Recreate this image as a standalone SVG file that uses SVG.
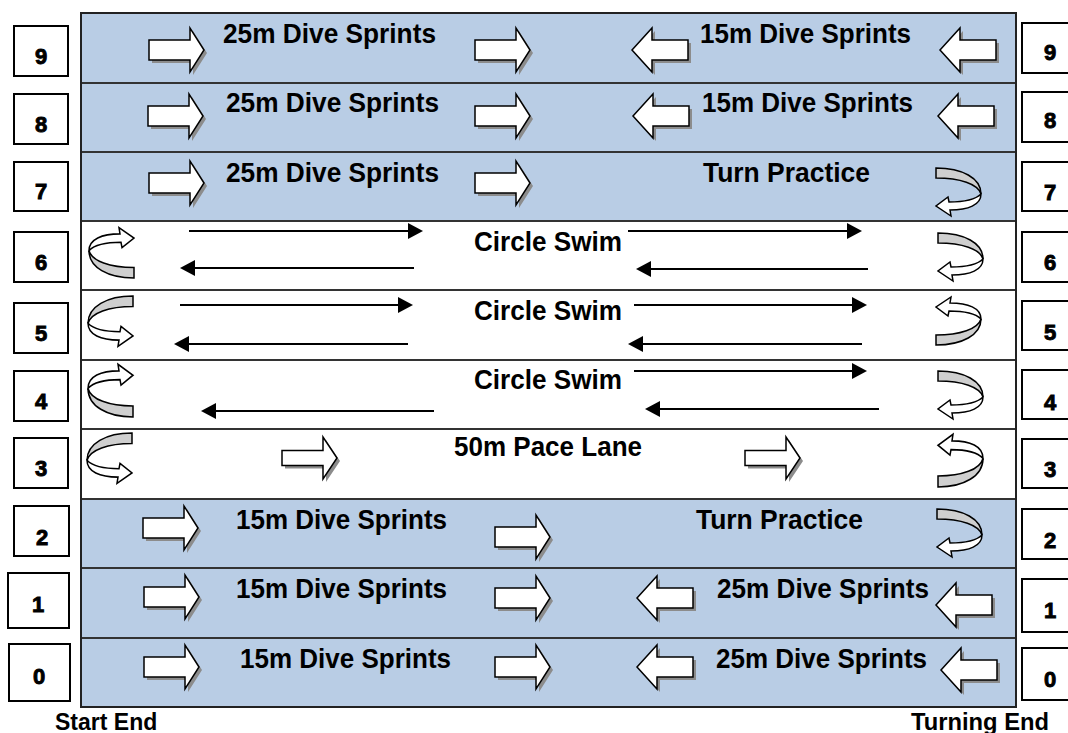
<svg xmlns="http://www.w3.org/2000/svg" width="1068" height="733" viewBox="0 0 1068 733">
<style>
.lbl{font-family:"Liberation Sans",Arial,sans-serif;font-weight:bold;font-size:28px;fill:#000}
.num{font-family:"Liberation Sans",Arial,sans-serif;font-weight:bold;font-size:22px;fill:#000;stroke:#000;stroke-width:0.9;text-anchor:middle}
.foot{font-family:"Liberation Sans",Arial,sans-serif;font-weight:bold;font-size:23px;fill:#000}
.box{fill:#fff;stroke:#000;stroke-width:2}
.blk{fill:#fff;stroke:#000;stroke-width:1.5;stroke-linejoin:miter}
.gry{fill:#cfcfcf;stroke:#000;stroke-width:1.5}
.shd{fill:#8c8c8c}
.ln{stroke:#000;stroke-width:2;fill:none}
.lane{stroke:#333;stroke-width:2}
</style>
<defs>
<marker id="ah" markerUnits="userSpaceOnUse" markerWidth="16" markerHeight="16" refX="5" refY="8" orient="auto">
<path d="M0,0 L15,8 L0,16 Z" fill="#000"/>
</marker>
<g id="ra"><path class="shd" d="M3,-7 H44 V-19 L58,3 L44,25 V13 H3 Z"/><path class="blk" d="M0,-10 H41 V-22 L55,0 L41,22 V10 H0 Z"/></g>
<g id="la"><path class="shd" d="M3,3 L23,-19 V-7 H59 V13 H23 V25 Z"/><path class="blk" d="M0,0 L20,-22 V-10 H56 V10 H20 V22 Z"/></g>
<g id="ra3"><path class="shd" d="M3,-4.5 H44 V-18 L58,3 L44,24 V10.5 H3 Z"/><path class="blk" d="M0,-7.5 H41 V-21 L55,0 L41,21 V7.5 H0 Z"/></g>
<g id="ut"><path class="gry" d="M0,0 C26,0 45,10 45,26 C42,16 24,10 0,10 Z"/><path class="blk" d="M45,26 C45,37 32,42 14,42 L15,48 L0,38 L12,29 L13,34 C28,34 40,31 45,26 Z"/></g>
</defs>

<g id="pool">
<rect x="81" y="13" width="935" height="208" fill="#b9cde5"/>
<rect x="81" y="221" width="935" height="278" fill="#fff"/>
<rect x="81" y="499" width="935" height="208" fill="#b9cde5"/>
<line class="lane" x1="81" y1="83" x2="1016" y2="83"/>
<line class="lane" x1="81" y1="152" x2="1016" y2="152"/>
<line class="lane" x1="81" y1="221" x2="1016" y2="221"/>
<line class="lane" x1="81" y1="290" x2="1016" y2="290"/>
<line class="lane" x1="81" y1="360" x2="1016" y2="360"/>
<line class="lane" x1="81" y1="429" x2="1016" y2="429"/>
<line class="lane" x1="81" y1="499" x2="1016" y2="499"/>
<line class="lane" x1="81" y1="568" x2="1016" y2="568"/>
<line class="lane" x1="81" y1="638" x2="1016" y2="638"/>
<rect x="81" y="13" width="935" height="694" fill="none" stroke="#222" stroke-width="2"/>
</g>

<g id="lane9">
<use href="#ra" x="149" y="50"/><use href="#ra" x="475" y="50"/>
<use href="#la" x="632" y="50"/><use href="#la" x="940" y="50"/>
<text class="lbl" x="223" y="43" textLength="213" lengthAdjust="spacingAndGlyphs">25m Dive Sprints</text>
<text class="lbl" x="700" y="43" textLength="211" lengthAdjust="spacingAndGlyphs">15m Dive Sprints</text>
</g>
<g id="lane8">
<use href="#ra" x="148" y="116"/><use href="#ra" x="475" y="116"/>
<use href="#la" x="633" y="116"/><use href="#la" x="938" y="116"/>
<text class="lbl" x="226" y="112" textLength="213" lengthAdjust="spacingAndGlyphs">25m Dive Sprints</text>
<text class="lbl" x="702" y="112" textLength="211" lengthAdjust="spacingAndGlyphs">15m Dive Sprints</text>
</g>
<g id="lane7">
<use href="#ra" x="149" y="183"/><use href="#ra" x="475" y="183"/>
<use href="#ut" transform="translate(936,168)"/>
<text class="lbl" x="226" y="182" textLength="213" lengthAdjust="spacingAndGlyphs">25m Dive Sprints</text>
<text class="lbl" x="703" y="182" textLength="167" lengthAdjust="spacingAndGlyphs">Turn Practice</text>
</g>
<g id="lane6">
<use href="#ut" transform="translate(134,278) rotate(180) scale(1,1.05)"/>
<use href="#ut" transform="translate(938,233)"/>
<text class="lbl" x="474" y="251" textLength="148" lengthAdjust="spacingAndGlyphs">Circle Swim</text>
</g>
<g id="lane5">
<use href="#ut" transform="translate(133,296) scale(-1,1.05)"/>
<use href="#ut" transform="translate(936,345) scale(1,-1)"/>
<text class="lbl" x="474" y="320" textLength="148" lengthAdjust="spacingAndGlyphs">Circle Swim</text>
</g>
<g id="lane4">
<use href="#ut" transform="translate(133,417) rotate(180) scale(1,1.1)"/>
<use href="#ut" transform="translate(938,371)"/>
<text class="lbl" x="474" y="389" textLength="148" lengthAdjust="spacingAndGlyphs">Circle Swim</text>
</g>
<g id="lane3">
<use href="#ut" transform="translate(132,433) scale(-1,1.05)"/>
<use href="#ut" transform="translate(938,487) scale(1,-1.1)"/>
<use href="#ra3" x="282" y="458"/><use href="#ra3" x="745" y="458"/>
<text class="lbl" x="454" y="456" textLength="188" lengthAdjust="spacingAndGlyphs">50m Pace Lane</text>
</g>
<g id="lane2">
<use href="#ra" x="143" y="528"/><use href="#ra" x="495" y="537"/>
<use href="#ut" transform="translate(937,509)"/>
<text class="lbl" x="236" y="529" textLength="211" lengthAdjust="spacingAndGlyphs">15m Dive Sprints</text>
<text class="lbl" x="696" y="529" textLength="167" lengthAdjust="spacingAndGlyphs">Turn Practice</text>
</g>
<g id="lane1">
<use href="#ra" x="144" y="597"/><use href="#ra" x="495" y="598"/>
<use href="#la" x="637" y="598"/><use href="#la" x="936" y="605"/>
<text class="lbl" x="236" y="598" textLength="211" lengthAdjust="spacingAndGlyphs">15m Dive Sprints</text>
<text class="lbl" x="717" y="598" textLength="212" lengthAdjust="spacingAndGlyphs">25m Dive Sprints</text>
</g>
<g id="lane0">
<use href="#ra" x="144" y="667"/><use href="#ra" x="495" y="667"/>
<use href="#la" x="637" y="667"/><use href="#la" x="941" y="670"/>
<text class="lbl" x="240" y="668" textLength="211" lengthAdjust="spacingAndGlyphs">15m Dive Sprints</text>
<text class="lbl" x="716" y="668" textLength="211" lengthAdjust="spacingAndGlyphs">25m Dive Sprints</text>
</g>

<g id="connectors">
<line class="ln" x1="189" y1="231" x2="413" y2="231" marker-end="url(#ah)"/>
<line class="ln" x1="414" y1="268" x2="190" y2="268" marker-end="url(#ah)"/>
<line class="ln" x1="628" y1="231" x2="852" y2="231" marker-end="url(#ah)"/>
<line class="ln" x1="868" y1="269" x2="646" y2="269" marker-end="url(#ah)"/>
<line class="ln" x1="180" y1="305" x2="403" y2="305" marker-end="url(#ah)"/>
<line class="ln" x1="408" y1="344" x2="184" y2="344" marker-end="url(#ah)"/>
<line class="ln" x1="634" y1="305" x2="857" y2="305" marker-end="url(#ah)"/>
<line class="ln" x1="862" y1="344" x2="638" y2="344" marker-end="url(#ah)"/>
<line class="ln" x1="634" y1="371" x2="857" y2="371" marker-end="url(#ah)"/>
<line class="ln" x1="434" y1="411" x2="211" y2="411" marker-end="url(#ah)"/>
<line class="ln" x1="879" y1="409" x2="655" y2="409" marker-end="url(#ah)"/>
</g>

<g id="left-numbers">
<g id="L9"><rect class="box" x="14" y="26" width="54" height="50"/><text class="num" x="41" y="64">9</text></g>
<g id="L8"><rect class="box" x="14" y="94" width="54" height="50"/><text class="num" x="41" y="132">8</text></g>
<g id="L7"><rect class="box" x="14" y="162" width="54" height="49"/><text class="num" x="41" y="199">7</text></g>
<g id="L6"><rect class="box" x="14" y="232" width="54" height="50"/><text class="num" x="41" y="270">6</text></g>
<g id="L5"><rect class="box" x="14" y="303" width="54" height="50"/><text class="num" x="41" y="341">5</text></g>
<g id="L4"><rect class="box" x="14" y="371" width="54" height="50"/><text class="num" x="41" y="409">4</text></g>
<g id="L3"><rect class="box" x="14" y="438" width="54" height="50"/><text class="num" x="41" y="476">3</text></g>
<g id="L2"><rect class="box" x="14" y="506" width="55" height="50"/><text class="num" x="42" y="545">2</text></g>
<g id="L1"><rect class="box" x="8" y="573" width="61" height="55"/><text class="num" x="38" y="612">1</text></g>
<g id="L0"><rect class="box" x="9" y="644" width="61" height="57"/><text class="num" x="39" y="684">0</text></g>
</g>
<g id="right-numbers">
<g id="R9"><rect class="box" x="1022" y="23" width="52" height="50"/><text class="num" x="1050" y="60">9</text></g>
<g id="R8"><rect class="box" x="1022" y="92" width="52" height="50"/><text class="num" x="1050" y="128">8</text></g>
<g id="R7"><rect class="box" x="1022" y="162" width="52" height="49"/><text class="num" x="1050" y="200">7</text></g>
<g id="R6"><rect class="box" x="1022" y="232" width="52" height="50"/><text class="num" x="1050" y="270">6</text></g>
<g id="R5"><rect class="box" x="1022" y="301" width="52" height="49"/><text class="num" x="1050" y="340">5</text></g>
<g id="R4"><rect class="box" x="1022" y="370" width="52" height="49"/><text class="num" x="1050" y="410">4</text></g>
<g id="R3"><rect class="box" x="1022" y="439" width="52" height="49"/><text class="num" x="1050" y="477">3</text></g>
<g id="R2"><rect class="box" x="1022" y="509" width="52" height="50"/><text class="num" x="1050" y="548">2</text></g>
<g id="R1"><rect class="box" x="1022" y="579" width="52" height="53"/><text class="num" x="1050" y="618">1</text></g>
<g id="R0"><rect class="box" x="1022" y="648" width="52" height="52"/><text class="num" x="1050" y="687">0</text></g>
</g>

<g id="footer">
<text class="foot" x="55" y="730">Start End</text>
<text class="foot" x="911" y="730" textLength="138" lengthAdjust="spacingAndGlyphs">Turning End</text>
</g>
</svg>
